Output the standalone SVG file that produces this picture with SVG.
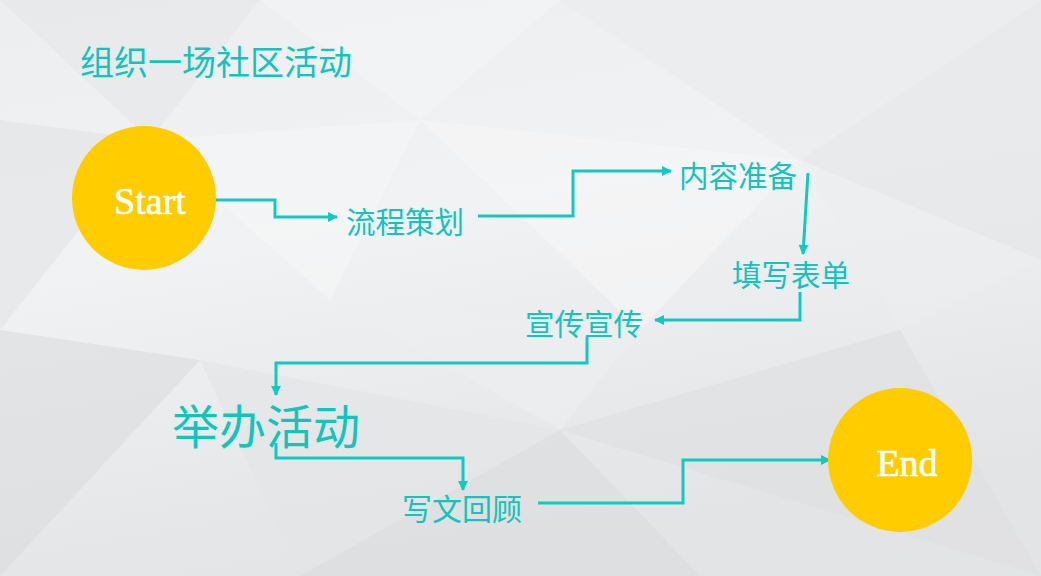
<svg xmlns="http://www.w3.org/2000/svg" width="1041" height="576" viewBox="0 0 1041 576">
<defs>
<linearGradient id="bg" x1="0" y1="0" x2="0.3" y2="1">
<stop offset="0" stop-color="#EDEEEF"/>
<stop offset="0.45" stop-color="#F1F2F3"/>
<stop offset="1" stop-color="#E3E4E5"/>
</linearGradient>
<marker id="ah" viewBox="0 0 10 10" refX="9" refY="5" markerWidth="11" markerHeight="10" markerUnits="userSpaceOnUse" orient="auto">
<path d="M0,0 L10,5 L0,10 Z" fill="#12C9C1"/>
</marker>
</defs>
<style>
.conn{fill:none;stroke:#12C9C1;stroke-width:3;marker-end:url(#ah)}
.lbl{font-family:"Noto Sans CJK SC","Noto Sans",sans-serif;fill:#12C4BC}
.cir{fill:#FFCC00}
.ctx{font-family:"Liberation Serif","DejaVu Serif",serif;fill:#FFFFFF;font-size:38px;text-anchor:middle}
</style>
<rect width="1041" height="576" fill="url(#bg)"/>
<g id="background" stroke="none" opacity="0.6">
<polygon points="0,0 260,0 150,140" fill="#E6E7E8"/>
<polygon points="260,0 560,0 420,120" fill="#F4F5F6"/>
<polygon points="560,0 1041,0 800,160" fill="#EBECED"/>
<polygon points="800,160 1041,0 1041,260" fill="#E5E6E7"/>
<polygon points="150,140 420,120 330,300" fill="#F6F7F7"/>
<polygon points="0,120 150,140 0,330" fill="#E3E4E5"/>
<polygon points="0,330 200,360 0,576" fill="#DCDDDE"/>
<polygon points="200,360 560,430 300,576" fill="#E4E5E6"/>
<polygon points="560,430 900,330 1041,576" fill="#DFE0E1"/>
<polygon points="420,120 800,160 640,330" fill="#F7F7F8"/>
<polygon points="800,160 1041,260 900,330" fill="#EDEEEF"/>
<polygon points="300,576 560,430 700,576" fill="#DCDDDE"/>
<polygon points="330,300 640,330 560,430" fill="#EEEFF0"/>
</g>
<g id="title">
<text class="lbl" x="80" y="75" font-size="34">组织一场社区活动</text>
</g>
<g id="connectors">
<polyline class="conn" points="216,200 275,200 275,217 337,217"/>
<polyline class="conn" points="478,216 573,216 573,171 671,171"/>
<polyline class="conn" points="808,173 803,254"/>
<polyline class="conn" points="800,292 800,320 655,320"/>
<polyline class="conn" points="587,337 587,363 276,363 276,395"/>
<polyline class="conn" points="276,443 276,458 463,458 463,490"/>
<polyline class="conn" points="538,503 683,503 683,460 830,460"/>
</g>
<g id="start">
<circle class="cir" cx="144" cy="198" r="72"/>
<text class="ctx" x="150" y="214" stroke="#FFFFFF" stroke-width="0.6">Start</text>
</g>
<g id="n1"><text class="lbl" x="346" y="233" font-size="29.5">流程策划</text></g>
<g id="n2"><text class="lbl" x="679" y="187" font-size="29.5">内容准备</text></g>
<g id="n3"><text class="lbl" x="732" y="286" font-size="29.5">填写表单</text></g>
<g id="n4"><text class="lbl" x="525" y="335" font-size="29.5">宣传宣传</text></g>
<g id="n5"><text class="lbl" x="172" y="444" font-size="47">举办活动</text></g>
<g id="n6"><text class="lbl" x="402" y="520" font-size="30">写文回顾</text></g>
<g id="end">
<circle class="cir" cx="900" cy="460" r="72"/>
<text class="ctx" x="907" y="476" stroke="#FFFFFF" stroke-width="0.6">End</text>
</g>
</svg>
